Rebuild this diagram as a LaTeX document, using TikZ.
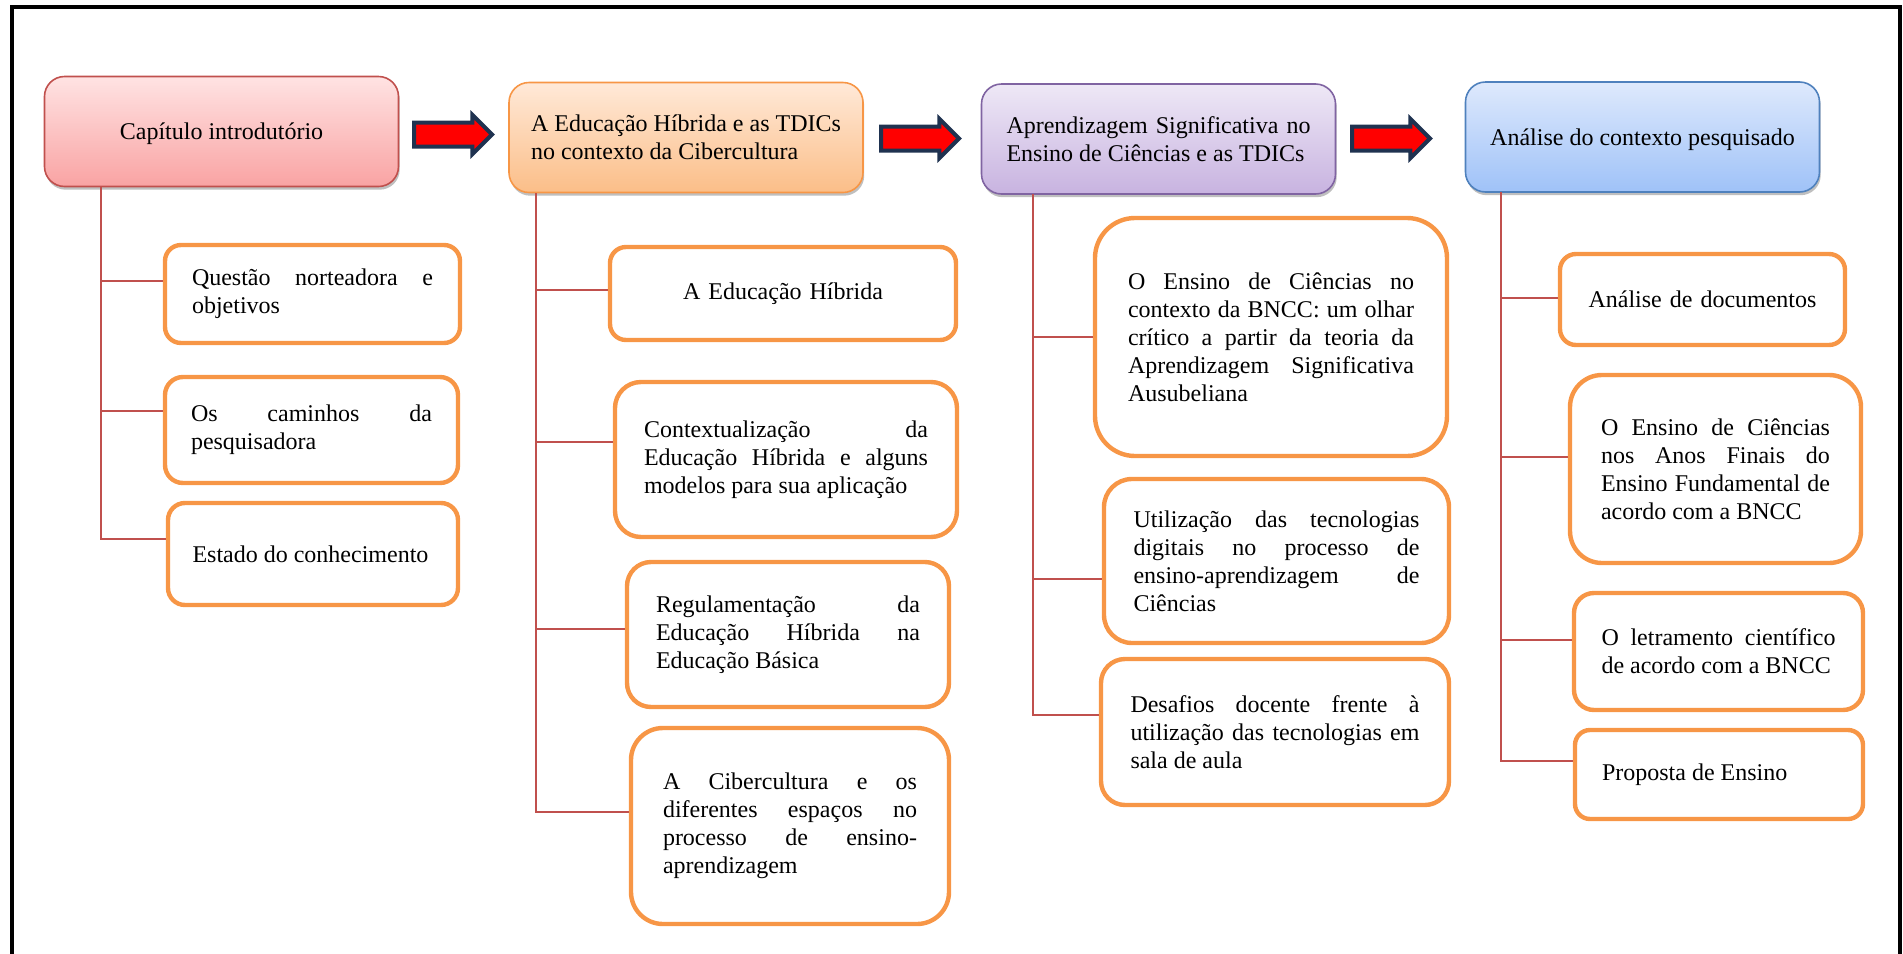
\documentclass[tikz,border=0pt]{standalone}
\usepackage{fontspec}
\setmainfont{Liberation Serif}
\usetikzlibrary{shapes,shadows,positioning}

\definecolor{linkred}{HTML}{C0504D}
\definecolor{suborange}{HTML}{F79646}
\definecolor{navy}{RGB}{31,50,80}
\definecolor{redtop}{HTML}{FFE3E3}
\definecolor{redbot}{HTML}{F9A3A3}
\definecolor{orangetop}{HTML}{FFE9D8}
\definecolor{orangebot}{HTML}{FBBE88}
\definecolor{violetline}{HTML}{8064A2}
\definecolor{violettop}{HTML}{EEE8F6}
\definecolor{violetbot}{HTML}{C8B3E0}
\definecolor{blueline}{HTML}{4F81BD}
\definecolor{bluetop}{HTML}{DEE9FC}
\definecolor{bluebot}{HTML}{9FC2F8}

\hyphenpenalty=10000
\tolerance=10000

\begin{document}
\begin{tikzpicture}[x=0.5pt, y=-0.5pt,
  head/.style={rectangle, rounded corners=10pt, line width=0.8pt, minimum width=177pt, minimum height=55pt, inner sep=0pt, font=\fontsize{12}{14}\selectfont, drop shadow={shadow xshift=0.6pt, shadow yshift=-1.6pt, fill=black, opacity=0.25}},
  sub/.style={rectangle, draw=suborange, line width=2.2pt, fill=white, inner sep=0pt, align=justify, font=\fontsize{12}{14}\selectfont},
  link/.style={draw=linkred, line width=1pt},
  bigarrow/.style={single arrow, draw=navy, fill=red, line width=2pt, minimum height=39pt, inner sep=0pt, inner ysep=5pt, single arrow head extend=3.8pt}]
\useasboundingbox (0,0) rectangle (1903,954);
\draw[line width=2.2pt] (12,954) -- (12,7) -- (1900,7) -- (1900,954);

\node[head, draw=linkred, top color=redtop, bottom color=redbot, text depth=0pt] (C1) at (221.5,131.5) {Capítulo introdutório};
\node[head, draw=suborange, top color=orangetop, bottom color=orangebot, align=left] (C2) at (686,137.5) {A Educação Híbrida e as TDICs\\no contexto da Cibercultura};
\node[head, draw=violetline, top color=violettop, bottom color=violetbot, text width=152pt, align=justify] (C3) at (1158.5,139) {Aprendizagem Significativa no Ensino de Ciências e as TDICs};
\node[head, draw=blueline, top color=bluetop, bottom color=bluebot, text depth=0pt] (C4) at (1642.5,137) {Análise do contexto pesquisado};

\node[bigarrow] (A1) at (447,134.5) {};
\node[bigarrow] (A2) at (914,138.5) {};
\node[bigarrow] (A3) at (1385,138.5) {};

\node[sub, rounded corners=8pt, minimum width=147.5pt, minimum height=49pt, text width=120.5pt] (S11) at (312.5,294) {Questão norteadora e objetivos};
\node[sub, rounded corners=9pt, minimum width=146.5pt, minimum height=53pt, text width=120.5pt] (S12) at (311.5,430) {Os caminhos da pesquisadora};
\node[sub, rounded corners=8.5pt, minimum width=145pt, minimum height=51pt, text width=120.5pt] (S13) at (313,554) {Estado do conhecimento};

\node[sub, rounded corners=8pt, minimum width=173pt, minimum height=46.5pt, text width=142pt, align=center] (S21) at (783,293.5) {A Educação Híbrida};
\node[sub, rounded corners=13pt, minimum width=171pt, minimum height=77.5pt, text width=142pt] (S22) at (786,459.5) {Contextualização da Educação Híbrida e alguns modelos para sua aplicação};
\node[sub, rounded corners=12pt, minimum width=161pt, minimum height=72.5pt, text width=132pt] (S23) at (788,634.5) {Regulamentação da Educação Híbrida na Educação Básica};
\node[sub, rounded corners=16pt, minimum width=159pt, minimum height=98pt, text width=127pt] (S24) at (790,826) {A Cibercultura e os diferentes espaços no processo de ensino-aprendizagem};

\node[sub, rounded corners=20pt, minimum width=176pt, minimum height=119pt, text width=143pt] (S31) at (1271,337) {O Ensino de Ciências no contexto da BNCC: um olhar crítico a partir da teoria da Aprendizagem Significativa Ausubeliana};
\node[sub, rounded corners=14pt, minimum width=172.5pt, minimum height=82pt, text width=143pt] (S32) at (1276.5,561) {Utilização das tecnologias digitais no processo de ensino-aprendizagem de Ciências};
\node[sub, rounded corners=12pt, minimum width=174pt, minimum height=73pt, text width=144.5pt] (S33) at (1275,732) {Desafios docente frente à utilização das tecnologias em sala de aula};

\node[sub, rounded corners=8pt, minimum width=142.5pt, minimum height=45.5pt, text width=115pt, align=center] (S41) at (1702.5,299.5) {Análise de documentos};
\node[sub, rounded corners=16pt, minimum width=145.5pt, minimum height=94pt, text width=114.5pt] (S42) at (1715.5,469) {O Ensino de Ciências nos Anos Finais do Ensino Fundamental de acordo com a BNCC};
\node[sub, rounded corners=10pt, minimum width=144.5pt, minimum height=58.5pt, text width=117pt] (S43) at (1718.5,651.5) {O letramento científico de acordo com a BNCC};
\node[sub, rounded corners=7.5pt, minimum width=144pt, minimum height=44.5pt, text width=117pt] (S44) at (1719,774.5) {Proposta de Ensino};

\coordinate (T1) at (101,187);
\coordinate (T2) at (536,193);
\coordinate (T3) at (1033,194);
\coordinate (T4) at (1501,192);

\draw[link] (T1) |- ([yshift=6.5pt]S11.west);
\draw[link] (T1) |- ([yshift=9.5pt]S12.west);
\draw[link] (T1) |- ([yshift=7.5pt]S13.west);
\draw[link] (T2) |- ([yshift=2pt]S21.west);
\draw[link] (T2) |- ([yshift=9pt]S22.west);
\draw[link] (T2) |- ([yshift=3pt]S23.west);
\draw[link] (T2) |- ([yshift=7pt]S24.west);
\draw[link] (T3) |- (S31.west);
\draw[link] (T3) |- ([yshift=-9pt]S32.west);
\draw[link] (T3) |- ([yshift=8.5pt]S33.west);
\draw[link] (T4) |- ([yshift=1pt]S41.west);
\draw[link] (T4) |- ([yshift=6pt]S42.west);
\draw[link] (T4) |- ([yshift=6pt]S43.west);
\draw[link] (T4) |- ([yshift=7pt]S44.west);
\end{tikzpicture}
\end{document}
